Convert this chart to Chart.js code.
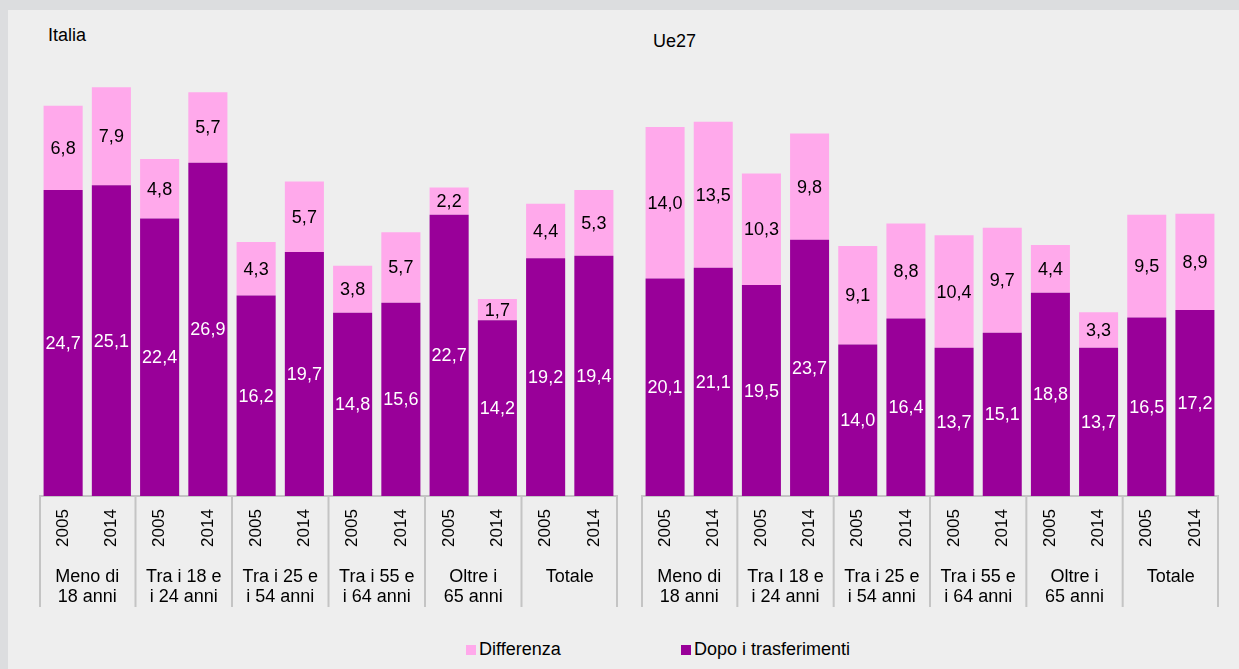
<!DOCTYPE html>
<html>
<head>
<meta charset="utf-8">
<script src="https://cdn.jsdelivr.net/npm/chart.js@4.4.1/dist/chart.umd.min.js"></script>
<style>
  html, body { margin: 0; padding: 0; }
  body { width: 1239px; height: 669px; background: #DCDDDF; position: relative; overflow: hidden;
         font-family: 'Liberation Sans', Arial, sans-serif; }
  #panel { position: absolute; left: 8px; top: 10px; right: 0; bottom: 0; background: #EEEEEE; }
  .title { position: absolute; font-size: 18px; color: #000; line-height: 20px; }
  .cv { position: absolute; }
  .leg { position: absolute; top: 639px; font-size: 18px; line-height: 20px; color: #000; white-space: nowrap; }
  .leg span.sw { display: inline-block; width: 10px; height: 10px; margin-right: 3px; vertical-align: 0px; }
</style>
</head>
<body>
<div id="panel"></div>
<div class="title" style="left:48px; top:25px;">Italia</div>
<div class="title" style="left:653px; top:31px;">Ue27</div>
<div class="cv" style="left:39px; top:60px; width:579px; height:547px;"><canvas id="cIt"></canvas></div>
<div class="cv" style="left:641px; top:60px; width:578px; height:547px;"><canvas id="cUe"></canvas></div>
<div class="leg" style="left:466px;"><span class="sw" style="background:#FFA9EB"></span>Differenza</div>
<div class="leg" style="left:681px;"><span class="sw" style="background:#990099"></span>Dopo i trasferimenti</div>
<script>
// ---- Data ----
const years = ['2005', '2014', '2005', '2014', '2005', '2014', '2005', '2014', '2005', '2014', '2005', '2014'];
const groupsIt = [['Meno di', '18 anni'], ['Tra i 18 e', 'i 24 anni'], ['Tra i 25 e', 'i 54 anni'], ['Tra i 55 e', 'i 64 anni'], ['Oltre i', '65 anni'], ['Totale']];
const groupsUe = [['Meno di', '18 anni'], ['Tra I 18 e', 'i 24 anni'], ['Tra i 25 e', 'i 54 anni'], ['Tra i 55 e', 'i 64 anni'], ['Oltre i', '65 anni'], ['Totale']];
const seriesNames = ['Dopo i trasferimenti', 'Differenza'];
const italiaDopo = [24.7, 25.1, 22.4, 26.9, 16.2, 19.7, 14.8, 15.6, 22.7, 14.2, 19.2, 19.4];
const italiaDiff = [6.8, 7.9, 4.8, 5.7, 4.3, 5.7, 3.8, 5.7, 2.2, 1.7, 4.4, 5.3];
const ue27Dopo = [20.1, 21.1, 19.5, 23.7, 14.0, 16.4, 13.7, 15.1, 18.8, 13.7, 16.5, 17.2];
const ue27Diff = [14.0, 13.5, 10.3, 9.8, 9.1, 8.8, 10.4, 9.7, 4.4, 3.3, 9.5, 8.9];
const yMaxIt = 35.2;
const yMaxUe = 40.3;

// ---- Styles ----
const DARK = '#990099';
const PINK = '#FFA9EB';
const LINE = '#C4C4C4';
const CLEAR = 'rgba(0,0,0,0)';
const FONT = "'Liberation Sans', Arial, sans-serif";
Chart.defaults.font.family = FONT;
Chart.defaults.font.size = 18;
Chart.defaults.color = '#000';

const fmt = v => v.toFixed(1).replace('.', ',');

const valueLabels = {
  id: 'valueLabels',
  afterDatasetsDraw(chart) {
    const ctx = chart.ctx;
    chart.data.datasets.forEach((ds, i) => {
      const meta = chart.getDatasetMeta(i);
      meta.data.forEach((bar, j) => {
        const p = bar.getProps(['x', 'y', 'base'], true);
        ctx.save();
        ctx.fillStyle = ds.labelColor;
        ctx.font = '18px ' + FONT;
        ctx.textAlign = 'center';
        ctx.textBaseline = 'middle';
        ctx.fillText(fmt(ds.data[j]), p.x, (p.y + p.base) / 2 + 1);
        ctx.restore();
      });
    });
  }
};

// group separators below the category axis, at every second category boundary
const groupLines = {
  id: 'groupLines',
  afterDraw(chart) {
    const xs = chart.scales.x;
    const ctx = chart.ctx;
    const n = chart.data.labels.length;
    const half = (xs.getPixelForValue(1) - xs.getPixelForValue(0)) / 2;
    const top = chart.chartArea.bottom;
    ctx.save();
    ctx.strokeStyle = LINE;
    ctx.lineWidth = 2;
    ctx.beginPath();
    for (let k = 0; k <= n; k += 2) {
      const px = k < n ? xs.getPixelForValue(k) - half : xs.getPixelForValue(n - 1) + half;
      const xx = Math.min(Math.max(px, 1), chart.width - 1);
      ctx.moveTo(xx, top);
      ctx.lineTo(xx, top + 111);
    }
    ctx.stroke();
    ctx.restore();
  }
};

function makeChart(id, dopo, diff, groups, yMax) {
  return new Chart(document.getElementById(id), {
    type: 'bar',
    data: {
      labels: years,
      datasets: [
        { label: seriesNames[0], data: dopo, backgroundColor: DARK, labelColor: '#FFFFFF',
          barPercentage: 0.81, categoryPercentage: 1 },
        { label: seriesNames[1], data: diff, backgroundColor: PINK, labelColor: '#000000',
          barPercentage: 0.81, categoryPercentage: 1 }
      ]
    },
    options: {
      responsive: true,
      maintainAspectRatio: false,
      animation: false,
      layout: { padding: 0 },
      plugins: { legend: { display: false }, tooltip: { enabled: false } },
      scales: {
        y: { stacked: true, display: false, min: 0, max: yMax },
        x: {
          stacked: true,
          offset: true,
          weight: 0,
          border: { display: true, color: LINE, width: 2 },
          grid: { display: true, offset: true, drawOnChartArea: false, drawTicks: true,
                  tickLength: 13, color: CLEAR, tickColor: CLEAR },
          ticks: { autoSkip: false, minRotation: 90, maxRotation: 90, padding: 0,
                   font: { size: 17 }, color: '#000' }
        },
        x2: {
          type: 'category',
          position: 'bottom',
          labels: groups,
          offset: true,
          weight: 1,
          border: { display: false },
          grid: { display: true, offset: true, drawOnChartArea: false, drawTicks: true,
                  tickLength: 20.5, color: CLEAR, tickColor: CLEAR },
          ticks: { autoSkip: false, maxRotation: 0, minRotation: 0, padding: 0,
                   font: { size: 18, lineHeight: 1.1 }, color: '#000' }
        }
      }
    },
    plugins: [valueLabels, groupLines]
  });
}

makeChart('cIt', italiaDopo, italiaDiff, groupsIt, yMaxIt);
makeChart('cUe', ue27Dopo, ue27Diff, groupsUe, yMaxUe);
</script>
</body>
</html>
